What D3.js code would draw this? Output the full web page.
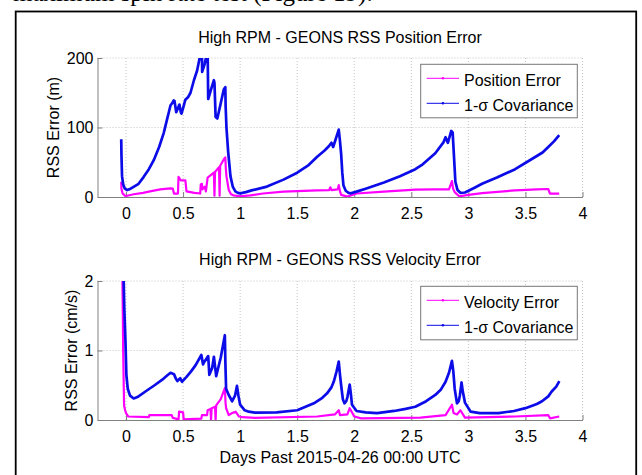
<!DOCTYPE html>
<meta charset="utf-8">
<title>High RPM - GEONS RSS Error</title>
<style>
  body { margin:0; padding:0; background:#fff; }
  svg { display:block; }
  text { font-family: 'Liberation Sans', Arial, sans-serif; fill:#000; }
  .grid line { stroke:#c4c4c4; stroke-dasharray:1,2; }
  .axis path, .axis line { stroke:#808080; }
  .axis text { font-size:16px; }
</style>
<body>
<div id="chart"></div>
<script src="https://cdn.jsdelivr.net/npm/d3@7"></script>
<script>

// tick labels
var xTicks = [0, 0.5, 1, 1.5, 2, 2.5, 3, 3.5, 4],
    posTicks = [0, 100, 200],
    velTicks = [0, 1, 2];

// [days, RSS position error (m)]
var posErr = [[-0.042,22],[-0.04,12],[-0.03,5],[-0.01,2],[0,1.5],[0.067,4],[0.15,6],[0.21,8],[0.3,11],[0.39,12.5],
  [0.41,12],[0.42,5],[0.455,5],[0.46,29],[0.48,24],[0.52,24],[0.53,8],[0.6,6],[0.65,5],[0.655,18],[0.665,19],
  [0.67,11],[0.69,15],[0.7,8],[0.715,28],[0.74,31],[0.77,35],[0.775,2],[0.78,36],[0.8,40],[0.815,43],[0.82,2],
  [0.825,45],[0.86,55],[0.87,57],[0.875,40],[0.88,30],[0.9,10],[0.92,4],[0.94,2.4],[1,1],[1.09,2.4],[1.2,5],
  [1.38,7.7],[1.5,8.5],[1.675,9.6],[1.78,10],[1.79,14],[1.8,10],[1.855,11],[1.864,17],[1.875,8],[1.885,3],
  [1.94,0.5],[2.02,5],[2.26,7.7],[2.535,10.5],[2.7,11],[2.83,11],[2.856,23],[2.866,12],[2.88,7],[2.92,1],
  [3,3],[3.12,5.5],[3.41,9.6],[3.6,11],[3.7,11.5],[3.715,5],[3.796,5]];

// [days, 1-sigma position covariance (m)]
var posCov = [[-0.042,83],[-0.04,60],[-0.035,30],[-0.025,18],[-0.01,12],[0.01,10],[0.04,12],[0.07,15],[0.11,19],
  [0.155,29],[0.2,40],[0.243,53],[0.29,72],[0.33,92],[0.36,112],[0.375,122],[0.39,132],[0.405,135],[0.418,139],
  [0.425,138],[0.44,122],[0.455,128],[0.468,133],[0.48,122],[0.486,120],[0.5,128],[0.52,140],[0.545,144],
  [0.565,150],[0.595,168],[0.623,182],[0.645,200],[0.655,212],[0.665,212],[0.667,180],[0.69,192],[0.715,212],
  [0.72,141],[0.745,155],[0.77,168],[0.775,164],[0.785,115],[0.8,113],[0.83,135],[0.857,155],[0.87,158],
  [0.873,130],[0.88,100],[0.895,65],[0.915,30],[0.935,15],[0.958,8],[0.98,6],[1,5.3],[1.05,7],[1.1,9.5],
  [1.235,15],[1.38,25],[1.5,35],[1.6,46],[1.675,58],[1.74,67],[1.777,73],[1.8,78],[1.815,72],[1.835,82],
  [1.864,97],[1.875,80],[1.885,62],[1.895,35],[1.905,17],[1.925,9],[1.95,6],[1.97,5.3],[2.02,7.7],[2.1,12],
  [2.26,21],[2.4,30],[2.535,40],[2.6,47],[2.71,63],[2.783,79],[2.8,86],[2.82,78],[2.85,95],[2.862,93],
  [2.87,70],[2.886,22],[2.905,10],[2.93,6],[2.97,6.5],[3.05,13],[3.12,19],[3.25,28],[3.41,40],[3.56,55],
  [3.65,64],[3.7,72],[3.75,80],[3.796,89]];

// [days, RSS velocity error (cm/s)]
var velErr = [[-0.032,2.1],[-0.028,1.5],[-0.025,1],[-0.02,0.5],[-0.017,0.21],[-0.008,0.14],[0,0.1],[0.02,0.05],
  [0.2,0.04],[0.205,0.07],[0.4,0.07],[0.41,0.03],[0.46,0.01],[0.465,0.12],[0.5,0.11],[0.505,0.01],[0.66,0.02],
  [0.665,0.07],[0.71,0.07],[0.715,0.14],[0.74,0.16],[0.745,0],[0.75,0.17],[0.78,0.19],[0.785,0],[0.79,0.21],
  [0.83,0.3],[0.866,0.46],[0.872,0.25],[0.877,0.17],[0.9,0.07],[0.93,0.1],[0.96,0.12],[0.99,0.05],[1.02,0.04],
  [1.13,0.03],[1.675,0.05],[1.83,0.08],[1.864,0.14],[1.875,0.07],[1.94,0.08],[1.96,0.17],[2,0.05],[2.06,0.024],
  [2.58,0.034],[2.8,0.07],[2.856,0.22],[2.87,0.1],[2.9,0.08],[2.93,0.14],[2.97,0.034],[3.41,0.05],[3.7,0.07],
  [3.715,0.024],[3.796,0.05]];

// [days, 1-sigma velocity covariance (cm/s)]
var velCov = [[-0.022,2.1],[-0.015,1.6],[-0.005,1.13],[0.003,0.65],[0.015,0.45],[0.035,0.35],[0.067,0.31],
  [0.1,0.33],[0.17,0.41],[0.25,0.5],[0.315,0.576],[0.36,0.64],[0.39,0.68],[0.42,0.66],[0.435,0.6],[0.45,0.56],
  [0.475,0.6],[0.49,0.55],[0.53,0.62],[0.57,0.7],[0.61,0.79],[0.66,0.935],[0.675,0.8],[0.68,0.82],[0.72,0.92],
  [0.73,0.65],[0.755,0.75],[0.77,0.91],[0.79,0.63],[0.83,0.9],[0.866,1.22],[0.871,0.8],[0.877,0.45],[0.9,0.36],
  [0.93,0.27],[0.955,0.35],[0.972,0.49],[0.985,0.35],[1,0.22],[1.04,0.14],[1.075,0.12],[1.13,0.105],[1.32,0.11],
  [1.5,0.14],[1.646,0.24],[1.72,0.32],[1.76,0.38],[1.8,0.47],[1.82,0.55],[1.845,0.7],[1.864,0.84],[1.875,0.65],
  [1.885,0.5],[1.9,0.3],[1.914,0.24],[1.93,0.27],[1.94,0.33],[1.96,0.51],[1.97,0.38],[1.98,0.22],[2.02,0.13],
  [2.1,0.11],[2.2,0.1],[2.35,0.13],[2.45,0.16],[2.535,0.19],[2.63,0.27],[2.71,0.36],[2.76,0.44],[2.8,0.55],
  [2.83,0.68],[2.856,0.85],[2.868,0.7],[2.88,0.45],[2.9,0.24],[2.915,0.27],[2.925,0.35],[2.94,0.54],[2.95,0.42],
  [2.97,0.25],[3.02,0.12],[3.1,0.1],[3.265,0.1],[3.4,0.13],[3.5,0.17],[3.6,0.23],[3.645,0.27],[3.7,0.34],
  [3.73,0.41],[3.77,0.48],[3.797,0.56]];

var errColor = "#ff00ff",
    covColor = "#0c0ce8";

var svg = d3.select("#chart").append("svg")
    .attr("width", 642)
    .attr("height", 475);

// bit of the document text above the figure, cut off like in the scan
svg.append("text")
  .attr("x", 13)
  .attr("y", 1)
  .style("font-family", "'Liberation Serif', 'Times New Roman', serif")
  .style("font-size", "25px")
  .text("maximum spin rate test (Figure 19).");

// figure frame
svg.append("rect")
  .attr("x", 15.7).attr("y", 11.5)
  .attr("width", 620.5).attr("height", 480)
  .attr("fill", "none")
  .attr("stroke", "#000")
  .attr("stroke-width", 1.8);

var x = d3.scaleLinear().domain([-0.25, 4]).range([97.5, 582.5]);

var panels = [
  {id:"pos", top:58, bottom:197, yMax:200, yTicks:posTicks, title:"High RPM - GEONS RSS Position Error",
   titleY:42.7, ylabel:"RSS Error (m)", ylabelX:59, err:posErr, cov:posCov, errName:"Position Error", legTop:64.3},
  {id:"vel", top:281, bottom:420, yMax:2, yTicks:velTicks, title:"High RPM - GEONS RSS Velocity Error",
   titleY:265, ylabel:"RSS Error (cm/s)", ylabelX:77, err:velErr, cov:velCov, errName:"Velocity Error", legTop:286.3}
];

panels.forEach(function(p) {
  var y = d3.scaleLinear().domain([0, p.yMax]).range([p.bottom, p.top]);
  var g = svg.append("g");

  g.append("clipPath").attr("id", "clip-" + p.id)
    .append("rect")
    .attr("x", x.range()[0]).attr("y", p.top)
    .attr("width", x.range()[1] - x.range()[0])
    .attr("height", p.bottom - p.top);

  //grid
  var grid = g.append("g").attr("class", "grid");
  grid.selectAll(".gx").data(xTicks)
    .enter().append("line")
    .attr("x1", function(d) { return x(d); }).attr("x2", function(d) { return x(d); })
    .attr("y1", p.top).attr("y2", p.bottom);
  grid.selectAll(".gy").data(p.yTicks.filter(function(d) { return d > 0; }))
    .enter().append("line")
    .attr("x1", x.range()[0]).attr("x2", x.range()[1])
    .attr("y1", function(d) { return y(d); }).attr("y2", function(d) { return y(d); });

  //axes, ticks point inward like matlab
  g.append("g").attr("class", "axis")
    .attr("transform", "translate(0," + p.bottom + ")")
    .call(d3.axisBottom(x).tickValues(xTicks).tickSizeInner(-5).tickSizeOuter(0)
      .tickPadding(10.5).tickFormat(d3.format("")));
  g.append("g").attr("class", "axis")
    .attr("transform", "translate(" + x.range()[0] + ",0)")
    .call(d3.axisLeft(y).tickValues(p.yTicks).tickSizeInner(-5).tickSizeOuter(0)
      .tickPadding(4).tickFormat(d3.format("")));

  var line = d3.line()
    .x(function(d) { return x(d[0]); })
    .y(function(d) { return y(d[1]); });

  var lines = g.append("g").attr("clip-path", "url(#clip-" + p.id + ")");
  lines.append("path").datum(p.err)
    .attr("d", line).attr("fill", "none")
    .attr("stroke", errColor).attr("stroke-width", 2.2)
    .attr("stroke-linejoin", "round");
  lines.append("path").datum(p.cov)
    .attr("d", line).attr("fill", "none")
    .attr("stroke", covColor).attr("stroke-width", 2.7)
    .attr("stroke-linejoin", "round");

  //titles
  g.append("text")
    .attr("x", (x.range()[0] + x.range()[1]) / 2)
    .attr("y", p.titleY)
    .attr("text-anchor", "middle")
    .style("font-size", "16px")
    .text(p.title);

  g.append("text")
    .attr("transform", "translate(" + p.ylabelX + "," + ((p.top + p.bottom) / 2) + ") rotate(-90)")
    .attr("text-anchor", "middle")
    .style("font-size", "16px")
    .text(p.ylabel);

  //legend
  var leg = g.append("g").attr("transform", "translate(420.7," + p.legTop + ")");
  leg.append("rect")
    .attr("width", 156.6).attr("height", 53.5)
    .attr("fill", "#fff").attr("stroke", "#777").attr("stroke-width", 1);
  var items = [{name: p.errName, color: errColor, ly: 14, ty: 21.7},
               {name: "1-σ Covariance", color: covColor, ly: 39, ty: 46.8}];
  items.forEach(function(it) {
    leg.append("line")
      .attr("x1", 6).attr("x2", 38.3)
      .attr("y1", it.ly).attr("y2", it.ly)
      .attr("stroke", it.color).attr("stroke-width", 1);
    leg.append("circle")
      .attr("cx", 22.2).attr("cy", it.ly).attr("r", 1.3)
      .attr("fill", it.color);
    leg.append("text")
      .attr("x", 43.3).attr("y", it.ty)
      .style("font-size", "16px")
      .text(it.name);
  });
});

svg.append("text")
  .attr("x", (x.range()[0] + x.range()[1]) / 2)
  .attr("y", 462.7)
  .attr("text-anchor", "middle")
  .style("font-size", "16px")
  .text("Days Past 2015-04-26 00:00 UTC");

</script>
</body>
</html>
